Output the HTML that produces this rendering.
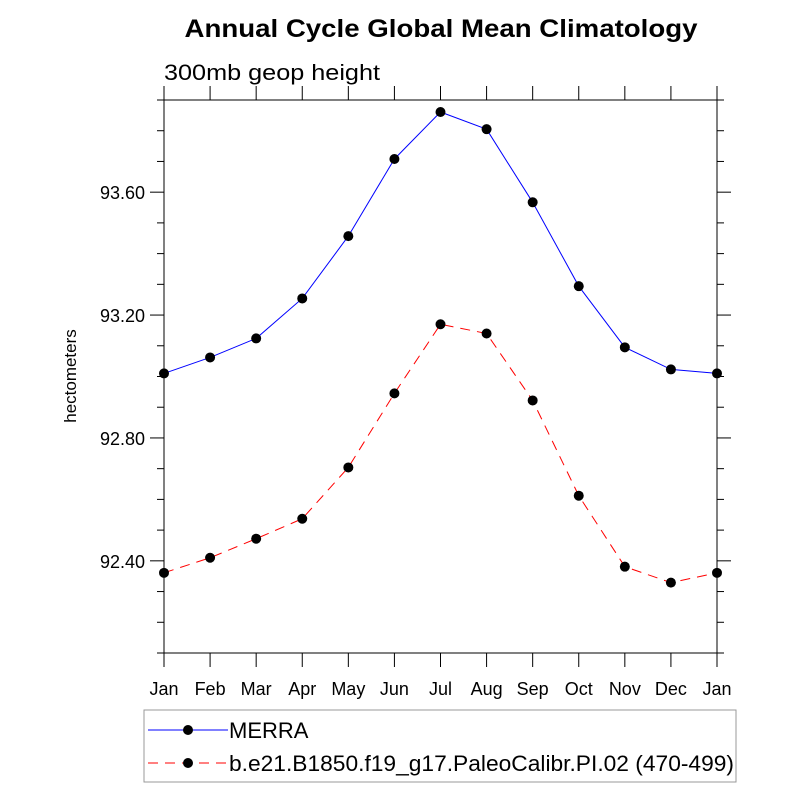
<!DOCTYPE html>
<html><head><meta charset="utf-8"><style>
body{margin:0;background:#fff}
svg text{font-family:"Liberation Sans",Arial,sans-serif}
</style></head><body>
<svg id="chart" width="800" height="800" viewBox="0 0 800 800" xmlns="http://www.w3.org/2000/svg">
<text x="441" y="37" font-size="25" font-weight="bold" text-anchor="middle" textLength="513" lengthAdjust="spacingAndGlyphs">Annual Cycle Global Mean Climatology</text>
<text x="164" y="80" font-size="22" textLength="216" lengthAdjust="spacingAndGlyphs">300mb geop height</text>
<text x="0" y="0" font-size="17" text-anchor="middle" transform="translate(76,376) rotate(-90)">hectometers</text>
<g id="axes"></g>
<g id="series"></g>
<rect x="144" y="710" width="592" height="72" fill="none" stroke="#999" stroke-width="1"/>
<g>
<line x1="148" y1="730" x2="228" y2="730" stroke="#0000ff" stroke-width="1"/>
<circle cx="188" cy="730" r="5" fill="#000"/>
<text x="229" y="738" font-size="22">MERRA</text>
</g>
<g>
<line x1="148" y1="763" x2="228" y2="763" stroke="#ff0000" stroke-width="1" stroke-dasharray="10,7"/>
<circle cx="188" cy="763" r="5" fill="#000"/>
<text x="229" y="771" font-size="22" textLength="505" lengthAdjust="spacingAndGlyphs">b.e21.B1850.f19_g17.PaleoCalibr.PI.02 (470-499)</text>
</g>
</svg>
<script>
const months=["Jan","Feb","Mar","Apr","May","Jun","Jul","Aug","Sep","Oct","Nov","Dec","Jan"];
const merra=[93.01,93.062,93.124,93.254,93.457,93.708,93.861,93.805,93.567,93.294,93.095,93.023,93.01];
const model=[92.361,92.41,92.472,92.537,92.704,92.945,93.17,93.14,92.922,92.612,92.381,92.329,92.361];
const yTicks=[92.4,92.8,93.2,93.6];
const yTickLabels=["92.40","92.80","93.20","93.60"];
const yMin=92.1,yMax=93.9;
const L=164,R=717,T=100,B=653;
const xs=i=>L+(R-L)*i/(months.length-1);
const ys=v=>B-(B-T)*(v-yMin)/(yMax-yMin);
const NS="http://www.w3.org/2000/svg";
function mk(tag,attrs,parent){const e=document.createElementNS(NS,tag);for(const k in attrs)e.setAttribute(k,attrs[k]);parent.appendChild(e);return e;}
const ax=document.getElementById('axes');
const fr=mk('rect',{x:L,y:T,width:R-L,height:B-T,fill:'none',stroke:'#000','stroke-width':1},ax);


months.forEach((m,i)=>{
  const x=xs(i);
  mk('line',{x1:x,y1:B,x2:x,y2:B+14,stroke:'#000'},ax);
  mk('line',{x1:x,y1:T,x2:x,y2:T-14,stroke:'#000'},ax);
  const t=mk('text',{x:x,y:B+42,'font-size':18,'text-anchor':'middle'},ax);
  t.textContent=m;
  
  
});
for(let v=yMin;v<=yMax+1e-6;v+=0.1){
  const y=ys(v);
  const major=yTicks.some(t=>Math.abs(t-v)<1e-6);
  const len=major?14:7;
  mk('line',{x1:L,y1:y,x2:L-len,y2:y,stroke:'#000'},ax);
  mk('line',{x1:R,y1:y,x2:R+len,y2:y,stroke:'#000'},ax);
}
yTicks.forEach((v,i)=>{
  const t=mk('text',{x:145,y:ys(v)+7,'font-size':18,'text-anchor':'end'},ax);
  t.textContent=yTickLabels[i];
  
  
});
const sg=document.getElementById('series');
function drawSeries(vals,color,dash,name){
  const g=mk('g',{},sg);
  
  
  const pts=vals.map((v,i)=>xs(i)+','+ys(v)).join(' ');
  const a={points:pts,fill:'none',stroke:color,'stroke-width':1};
  if(dash)a['stroke-dasharray']=dash;
  mk('polyline',a,g);
  vals.forEach((v,i)=>{
    const c=mk('circle',{cx:xs(i),cy:ys(v),r:5,fill:'#000'},g);
    
    
  });
}
drawSeries(merra,'#0000ff',null,'merra-series');
drawSeries(model,'#ff0000','10,7','model-series');
</script>
</body></html>
